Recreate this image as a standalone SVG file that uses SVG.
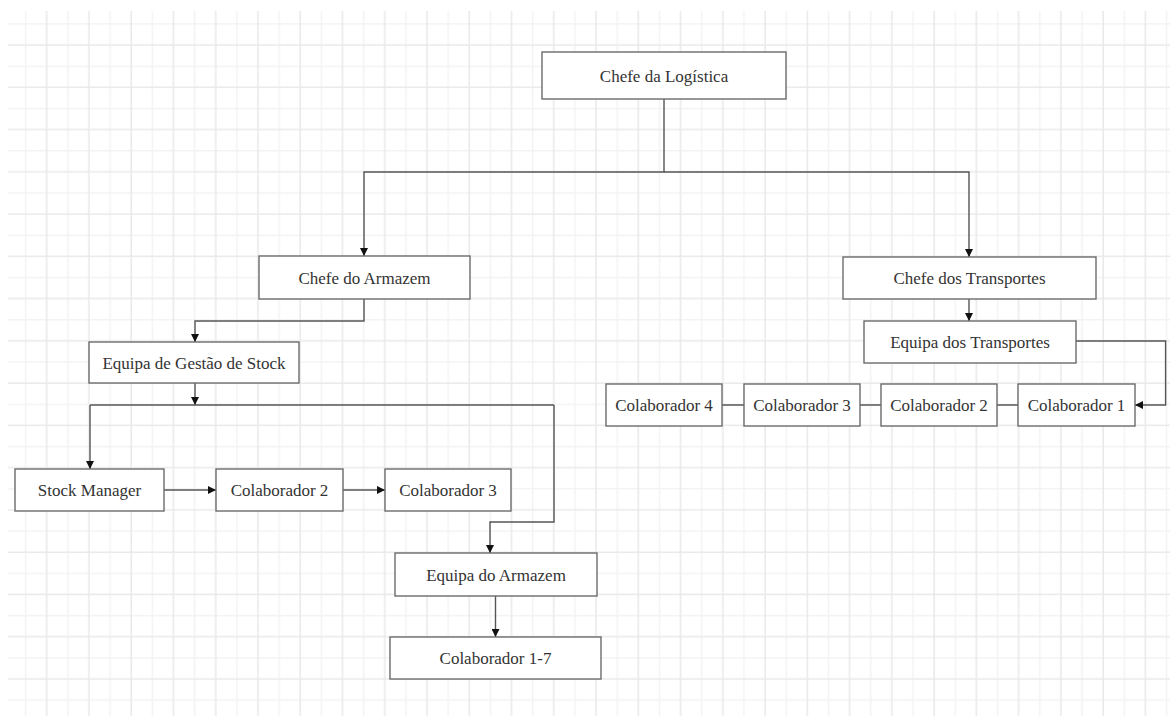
<svg xmlns="http://www.w3.org/2000/svg" width="1170" height="716" viewBox="0 0 1170 716">
  <defs>
    <pattern id="grid" patternUnits="userSpaceOnUse" x="36.7" y="35" width="42.26" height="42.26">
      <path d="M31.13 0V42.26M0 31.13H42.26" stroke="#f3f3f3" stroke-width="1.5" fill="none"/>
      <path d="M10 0V42.26M0 10H42.26" stroke="#e9e9e9" stroke-width="1.5" fill="none"/>
    </pattern>
    <marker id="arr" viewBox="0 0 10 10" refX="10" refY="5" markerWidth="8" markerHeight="8" markerUnits="userSpaceOnUse" orient="auto">
      <path d="M0 0L10 5L0 10Z" fill="#111"/>
    </marker>
    <style>
      .box { fill: #fff; stroke: #6b6b6b; stroke-width: 1.4; }
      .lbl { font-size: 17px; fill: #333; text-anchor: middle; }
      .con { fill: none; stroke: #555; stroke-width: 1.4; }
    </style>
  </defs>
  <rect width="1170" height="716" fill="#fff"/>
  <rect x="8" y="11" width="1162" height="705" fill="url(#grid)"/>

  <g id="connectors">
    <path class="con" d="M664 99V172H364V256" marker-end="url(#arr)"/>
    <path class="con" d="M664 172H969V257" marker-end="url(#arr)"/>
    <path class="con" d="M364 299V321H195V342" marker-end="url(#arr)"/>
    <path class="con" d="M195 383V405" marker-end="url(#arr)"/>
    <path class="con" d="M90 405H554"/>
    <path class="con" d="M90 405V469" marker-end="url(#arr)"/>
    <path class="con" d="M554 405V522H490V553" marker-end="url(#arr)"/>
    <path class="con" d="M164 490H216" marker-end="url(#arr)"/>
    <path class="con" d="M343 490H385" marker-end="url(#arr)"/>
    <path class="con" d="M495.5 596V637" marker-end="url(#arr)"/>
    <path class="con" d="M969 299V321" marker-end="url(#arr)"/>
    <path class="con" d="M1076 341H1165.6V405H1135" marker-end="url(#arr)"/>
    <path class="con" d="M722 405H744M860 405H881M997 405H1018"/>
  </g>

  <g font-family="'Liberation Serif', 'Times New Roman', 'DejaVu Serif', serif">
  <g id="chefe-logistica">
    <rect class="box" x="542" y="52" width="244" height="47"/>
    <text class="lbl" x="664" y="81.5">Chefe da Logística</text>
  </g>
  <g id="chefe-armazem">
    <rect class="box" x="259" y="256" width="211" height="43"/>
    <text class="lbl" x="364.5" y="283.5">Chefe do Armazem</text>
  </g>
  <g id="chefe-transportes">
    <rect class="box" x="843" y="257" width="253" height="42"/>
    <text class="lbl" x="969.5" y="284">Chefe dos Transportes</text>
  </g>
  <g id="equipa-gestao-stock">
    <rect class="box" x="89" y="342" width="210" height="41"/>
    <text class="lbl" x="194" y="368.5">Equipa de Gestão de Stock</text>
  </g>
  <g id="equipa-transportes">
    <rect class="box" x="864" y="321" width="212" height="42"/>
    <text class="lbl" x="970" y="348">Equipa dos Transportes</text>
  </g>
  <g id="stock-manager">
    <rect class="box" x="15" y="469" width="149" height="42"/>
    <text class="lbl" x="89.5" y="496">Stock Manager</text>
  </g>
  <g id="colaborador-2-stock">
    <rect class="box" x="216" y="469" width="127" height="42"/>
    <text class="lbl" x="279.5" y="496">Colaborador 2</text>
  </g>
  <g id="colaborador-3-stock">
    <rect class="box" x="385" y="469" width="126" height="42"/>
    <text class="lbl" x="448" y="496">Colaborador 3</text>
  </g>
  <g id="equipa-armazem">
    <rect class="box" x="395" y="553" width="202" height="43"/>
    <text class="lbl" x="496" y="580.5">Equipa do Armazem</text>
  </g>
  <g id="colaborador-1-7">
    <rect class="box" x="390" y="637" width="211" height="42"/>
    <text class="lbl" x="495.5" y="664">Colaborador 1-7</text>
  </g>
  <g id="colaborador-4-transp">
    <rect class="box" x="606" y="384" width="116" height="42"/>
    <text class="lbl" x="664" y="411">Colaborador 4</text>
  </g>
  <g id="colaborador-3-transp">
    <rect class="box" x="744" y="384" width="116" height="42"/>
    <text class="lbl" x="802" y="411">Colaborador 3</text>
  </g>
  <g id="colaborador-2-transp">
    <rect class="box" x="881" y="384" width="116" height="42"/>
    <text class="lbl" x="939" y="411">Colaborador 2</text>
  </g>
  <g id="colaborador-1-transp">
    <rect class="box" x="1018" y="384" width="117" height="42"/>
    <text class="lbl" x="1076.5" y="411">Colaborador 1</text>
  </g>
  </g>
</svg>
